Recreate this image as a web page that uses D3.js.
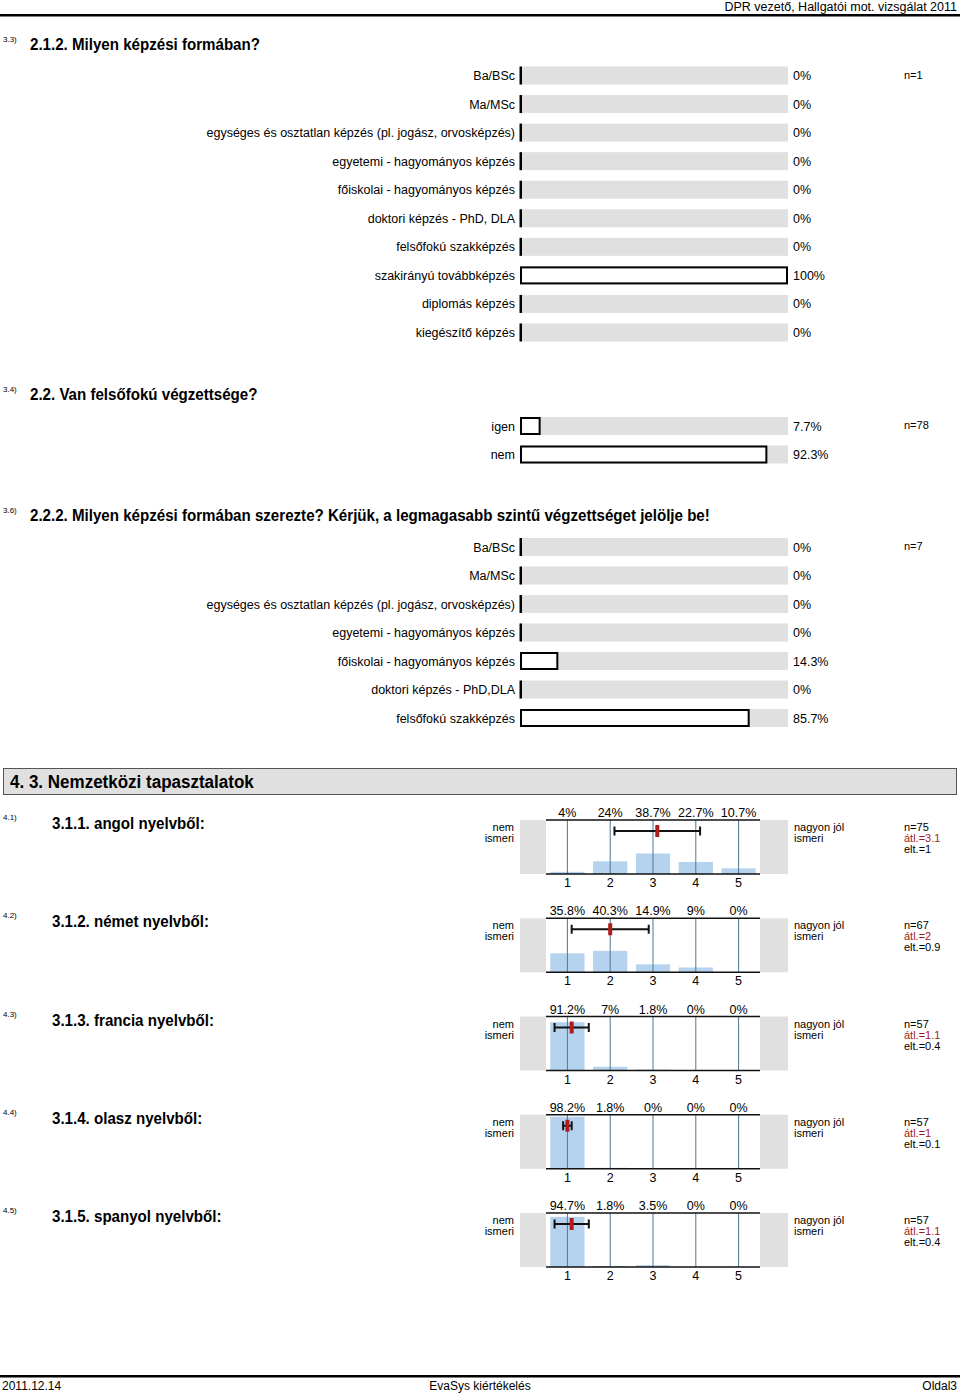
<!DOCTYPE html>
<html>
<head>
<meta charset="utf-8">
<script src="https://cdn.jsdelivr.net/npm/d3@7"></script>
<style>
  body { margin: 0; background: #fff; }
  svg { display: block; font-family: "Liberation Sans", Arial, sans-serif; }
</style>
</head>
<body>
<script>
// DATA

var q1Labels = ["Ba/BSc", "Ma/MSc", "egységes és osztatlan képzés (pl. jogász, orvosképzés)",
    "egyetemi - hagyományos képzés", "főiskolai - hagyományos képzés", "doktori képzés - PhD, DLA",
    "felsőfokú szakképzés", "szakirányú továbbképzés", "diplomás képzés", "kiegészítő képzés"];
var q1Values = [0, 0, 0, 0, 0, 0, 0, 100, 0, 0];
var q1N = 1;

var q2Labels = ["igen", "nem"];
var q2Values = [7.7, 92.3];
var q2N = 78;

var q3Labels = ["Ba/BSc", "Ma/MSc", "egységes és osztatlan képzés (pl. jogász, orvosképzés)",
    "egyetemi - hagyományos képzés", "főiskolai - hagyományos képzés", "doktori képzés - PhD,DLA",
    "felsőfokú szakképzés"];
var q3Values = [0, 0, 0, 0, 14.3, 0, 85.7];
var q3N = 7;

var langIds = ["4.1)", "4.2)", "4.3)", "4.4)", "4.5)"];
var langTitles = ["3.1.1. angol nyelvből:", "3.1.2. német nyelvből:", "3.1.3. francia nyelvből:",
    "3.1.4. olasz nyelvből:", "3.1.5. spanyol nyelvből:"];
var scaleSteps = [1, 2, 3, 4, 5];
var langValues = [
    [4, 24, 38.7, 22.7, 10.7],
    [35.8, 40.3, 14.9, 9, 0],
    [91.2, 7, 1.8, 0, 0],
    [98.2, 1.8, 0, 0, 0],
    [94.7, 1.8, 3.5, 0, 0]
];
var langN = [75, 67, 57, 57, 57];
var langMean = [3.1, 2, 1.1, 1, 1.1];
var langSd = [1, 0.9, 0.4, 0.1, 0.4];

// SETUP

var width = 960, height = 1395;
var svg = d3.select("body").append("svg").attr("width", width).attr("height", height);

var grey = "#e0e0e0";
var titleSqueeze = 0.945;

function boldTitle(x, y, text, size) {
    svg.append("text")
        .attr("transform", "translate(" + x + "," + y + ") scale(" + titleSqueeze + ",1)")
        .attr("font-size", size || 16).attr("font-weight", "bold")
        .text(text);
}

function smallId(y, text) {
    svg.append("text").attr("x", 3).attr("y", y).attr("font-size", 8).text(text);
}

// header
svg.append("text").attr("x", 957).attr("y", 11).attr("text-anchor", "end")
    .attr("font-size", 12.5).text("DPR vezető, Hallgatói mot. vizsgálat 2011");
svg.append("rect").attr("x", 0).attr("y", 14).attr("width", 960).attr("height", 2.5).attr("fill", "#000");

// footer
svg.append("rect").attr("x", 0).attr("y", 1375).attr("width", 960).attr("height", 2.5).attr("fill", "#000");
svg.append("text").attr("x", 2).attr("y", 1390).attr("font-size", 12).text("2011.12.14");
svg.append("text").attr("x", 480).attr("y", 1390).attr("font-size", 12).attr("text-anchor", "middle").text("EvaSys kiértékelés");
svg.append("text").attr("x", 957).attr("y", 1390).attr("font-size", 12).attr("text-anchor", "end").text("Oldal3");

// horizontal bar blocks
var xBar = d3.scaleLinear().domain([0, 100]).range([520, 788]);

function barBlock(labels, values, n, yFrom, yTo) {
    var y = d3.scalePoint().domain(labels).range([yFrom, yTo]);
    var g = svg.append("g");
    var rows = g.selectAll("g.row").data(labels).enter().append("g").attr("class", "row");

    rows.append("rect")
        .attr("x", xBar(0)).attr("y", function (d) { return y(d) - 9; })
        .attr("width", xBar(100) - xBar(0)).attr("height", 18)
        .attr("fill", grey);

    rows.append("text")
        .attr("x", 515).attr("y", function (d) { return y(d) + 4.5; })
        .attr("text-anchor", "end").attr("font-size", 12.5)
        .text(function (d) { return d; });

    rows.filter(function (d, i) { return values[i] > 0; }).append("rect")
        .attr("x", xBar(0) + 1).attr("y", function (d) { return y(d) - 8; })
        .attr("width", function (d) { return xBar(values[labels.indexOf(d)]) - xBar(0) - 2; })
        .attr("height", 16)
        .attr("fill", "#fff").attr("stroke", "#000").attr("stroke-width", 2);

    rows.filter(function (d, i) { return values[i] === 0; }).append("rect")
        .attr("x", xBar(0) - 0.5).attr("y", function (d) { return y(d) - 9; })
        .attr("width", 2.5).attr("height", 18)
        .attr("fill", "#000");

    rows.append("text")
        .attr("x", 793).attr("y", function (d) { return y(d) + 4.5; })
        .attr("font-size", 12.5)
        .text(function (d, i) { return values[i] + "%"; });

    g.append("text").attr("x", 904).attr("y", yFrom + 3).attr("font-size", 11).text("n=" + n);
}

smallId(42, "3.3)");
boldTitle(30, 50, "2.1.2. Milyen képzési formában?");
barBlock(q1Labels, q1Values, q1N, 75.5, 332.5);

smallId(392, "3.4)");
boldTitle(30, 400, "2.2. Van felsőfokú végzettsége?");
barBlock(q2Labels, q2Values, q2N, 426, 454.5);

smallId(513, "3.6)");
boldTitle(30, 521, "2.2.2. Milyen képzési formában szerezte? Kérjük, a legmagasabb szintű végzettséget jelölje be!");
barBlock(q3Labels, q3Values, q3N, 547, 718);

// section header
svg.append("rect").attr("x", 3.5).attr("y", 768.5).attr("width", 953).attr("height", 26)
    .attr("fill", grey).attr("stroke", "#555").attr("stroke-width", 1);
boldTitle(10, 788, "4. 3. Nemzetközi tapasztalatok", 18);

// histograms
var xHist = d3.scaleBand().domain(scaleSteps).range([546, 760]).paddingInner(0.2).paddingOuter(0.1);
var xMean = d3.scaleLinear().domain([1, 5])
    .range([xHist(1) + xHist.bandwidth() / 2, xHist(5) + xHist.bandwidth() / 2]);
var lineColor = "#4f7896";

langTitles.forEach(function (title, k) {
    var top = 820 + k * 98.25,
        bottom = top + 54,
        yH = d3.scaleLinear().domain([0, 100]).range([bottom, bottom - 53]),
        vals = langValues[k],
        g = svg.append("g");

    smallId(top, langIds[k]);
    boldTitle(52, top + 9, title);

    g.append("rect").attr("x", 520).attr("y", top).attr("width", 26).attr("height", 54).attr("fill", grey);
    g.append("rect").attr("x", 760).attr("y", top).attr("width", 28).attr("height", 54).attr("fill", grey);

    g.selectAll("rect.bar").data(vals).enter().append("rect").attr("class", "bar")
        .attr("x", function (d, i) { return xHist(scaleSteps[i]); })
        .attr("width", xHist.bandwidth())
        .attr("y", function (d) { return yH(d); })
        .attr("height", function (d) { return yH(0) - yH(d); })
        .attr("fill", "#b5d3ee");

    g.selectAll("line.grid").data(scaleSteps).enter().append("line").attr("class", "grid")
        .attr("x1", function (d) { return xMean(d); }).attr("x2", function (d) { return xMean(d); })
        .attr("y1", top).attr("y2", bottom)
        .attr("stroke", lineColor).attr("stroke-width", 1);

    g.append("line").attr("x1", 546).attr("x2", 760).attr("y1", top).attr("y2", top)
        .attr("stroke", "#111").attr("stroke-width", 1.5);
    g.append("line").attr("x1", 546).attr("x2", 760).attr("y1", bottom).attr("y2", bottom)
        .attr("stroke", "#111").attr("stroke-width", 1.5);

    g.selectAll("text.pct").data(vals).enter().append("text").attr("class", "pct")
        .attr("x", function (d, i) { return xMean(scaleSteps[i]); })
        .attr("y", top - 3).attr("text-anchor", "middle").attr("font-size", 12.5)
        .text(function (d) { return d + "%"; });

    g.selectAll("text.tick").data(scaleSteps).enter().append("text").attr("class", "tick")
        .attr("x", function (d) { return xMean(d); })
        .attr("y", bottom + 13).attr("text-anchor", "middle").attr("font-size", 12.5)
        .text(function (d) { return d; });

    // std deviation bar and mean
    var ey = top + 11,
        lo = xMean(langMean[k] - langSd[k]),
        hi = xMean(langMean[k] + langSd[k]);
    g.append("line").attr("x1", lo).attr("x2", hi).attr("y1", ey).attr("y2", ey)
        .attr("stroke", "#111").attr("stroke-width", 2);
    [lo, hi].forEach(function (x) {
        g.append("line").attr("x1", x).attr("x2", x).attr("y1", ey - 4.5).attr("y2", ey + 4.5)
            .attr("stroke", "#111").attr("stroke-width", 2);
    });
    g.append("rect").attr("x", xMean(langMean[k]) - 2).attr("y", ey - 6).attr("width", 4).attr("height", 12)
        .attr("fill", "#b01c1c");

    g.append("text").attr("x", 514).attr("y", top + 11).attr("text-anchor", "end").attr("font-size", 11).text("nem");
    g.append("text").attr("x", 514).attr("y", top + 22).attr("text-anchor", "end").attr("font-size", 11).text("ismeri");
    g.append("text").attr("x", 794).attr("y", top + 11).attr("font-size", 11).text("nagyon jól");
    g.append("text").attr("x", 794).attr("y", top + 22).attr("font-size", 11).text("ismeri");

    g.append("text").attr("x", 904).attr("y", top + 11).attr("font-size", 11).text("n=" + langN[k]);
    g.append("text").attr("x", 904).attr("y", top + 22).attr("font-size", 11).attr("fill", "#9b1c1c").text("átl.=" + langMean[k]);
    g.append("text").attr("x", 904).attr("y", top + 33).attr("font-size", 11).text("elt.=" + langSd[k]);
});
</script>
</body>
</html>
